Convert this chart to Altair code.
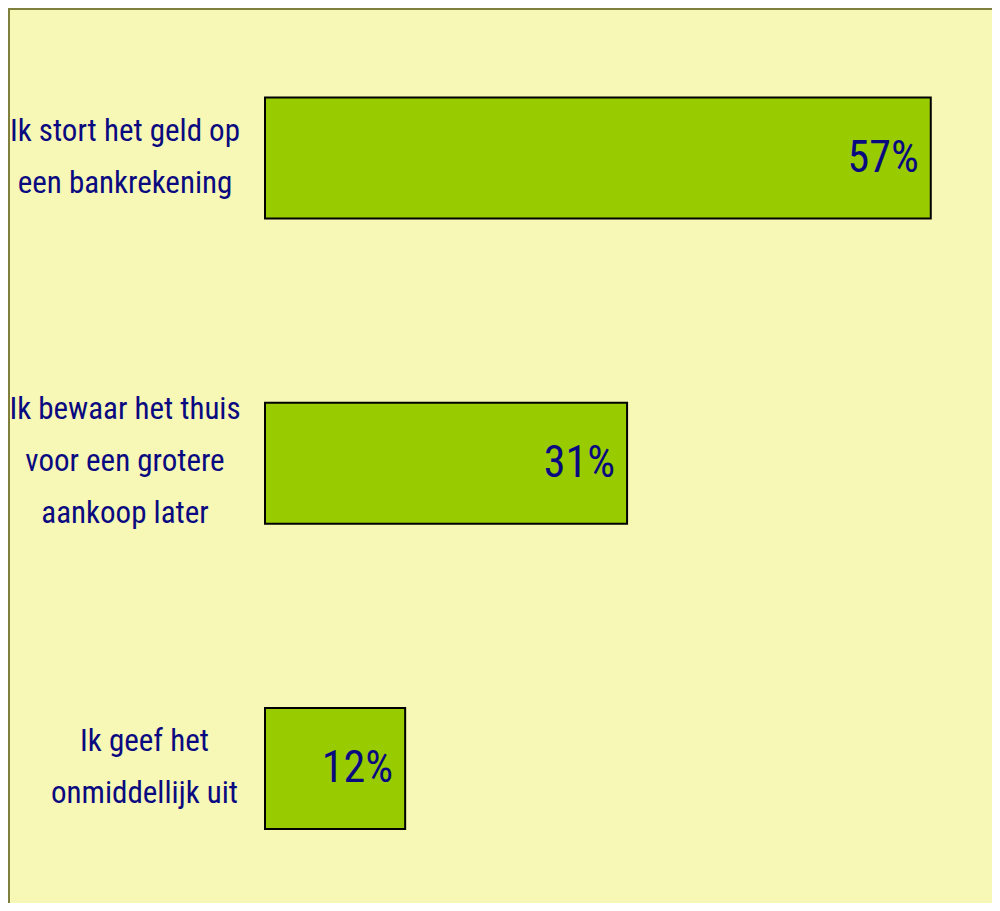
import altair as alt
import pandas as pd

categories = [
    "Ik stort het geld op|een bankrekening",
    "Ik bewaar het thuis|voor een grotere|aankoop later",
    "Ik geef het|onmiddellijk uit",
]
values = [57, 31, 12]
value_labels = ["57%", "31%", "12%"]

df = pd.DataFrame({"cat": categories, "val": values, "lab": value_labels})

BG = "#F7F7B6"
BAR = "#99CC00"
NAVY = "#0A0A80"
FRAME = "#80803C"
FONT = "Roboto Condensed, DejaVu Sans Condensed, sans-serif"

W = 984 - 257
H = 895

y_enc = alt.Y(
    "cat:N",
    sort=categories,
    scale=alt.Scale(paddingInner=0.6036, paddingOuter=0.2678, align=0.547),
    axis=alt.Axis(
        title=None,
        domain=False,
        ticks=False,
        grid=False,
        labelExpr="split(datum.value, '|')",
        labelAlign="center",
        labelBaseline="middle",
        labelPadding={
            "condition": {"test": "datum.value == 'Ik geef het|onmiddellijk uit'", "value": 121},
            "value": 140.5,
        },
        labelOffset={
            "condition": {"test": "datum.value == 'Ik bewaar het thuis|voor een grotere|aankoop later'", "value": -53},
            "value": -26,
        },
        labelFont=FONT,
        labelFontSize=31,
        labelLineHeight=52,
        labelColor=NAVY,
        labelLimit=0,
    ),
)
x_enc = alt.X("val:Q", scale=alt.Scale(domain=[0, W / 11.68], nice=False), axis=None)

bars = alt.Chart(df).mark_bar(color=BAR, stroke="black", strokeWidth=2).encode(x=x_enc, y=y_enc)
texts = alt.Chart(df).mark_text(
    align="right", baseline="middle", dx=-12, dy=1, font=FONT, fontSize=44, color=NAVY
).encode(x=x_enc, y=y_enc, text="lab:N")

one = alt.Data(values=[{"k": 1}])
top_rule = alt.Chart(one).mark_rule(color=FRAME, strokeWidth=2).encode(
    x=alt.value(-257), x2=alt.value(W), y=alt.value(1)
)
left_rule = alt.Chart(one).mark_rule(color=FRAME, strokeWidth=2).encode(
    x=alt.value(-256), y=alt.value(0), y2=alt.value(H)
)

chart = (
    alt.layer(bars, texts, top_rule, left_rule)
    .properties(
        width=W,
        height=H,
        autosize=alt.AutoSizeParams(type="none"),
        padding={"left": 257, "top": 0, "right": 0, "bottom": 0},
        background=BG,
    )
    .configure_view(stroke=None, fill=BG)
)

chart.save("out.html", embed_options={"renderer": "svg", "actions": False})
